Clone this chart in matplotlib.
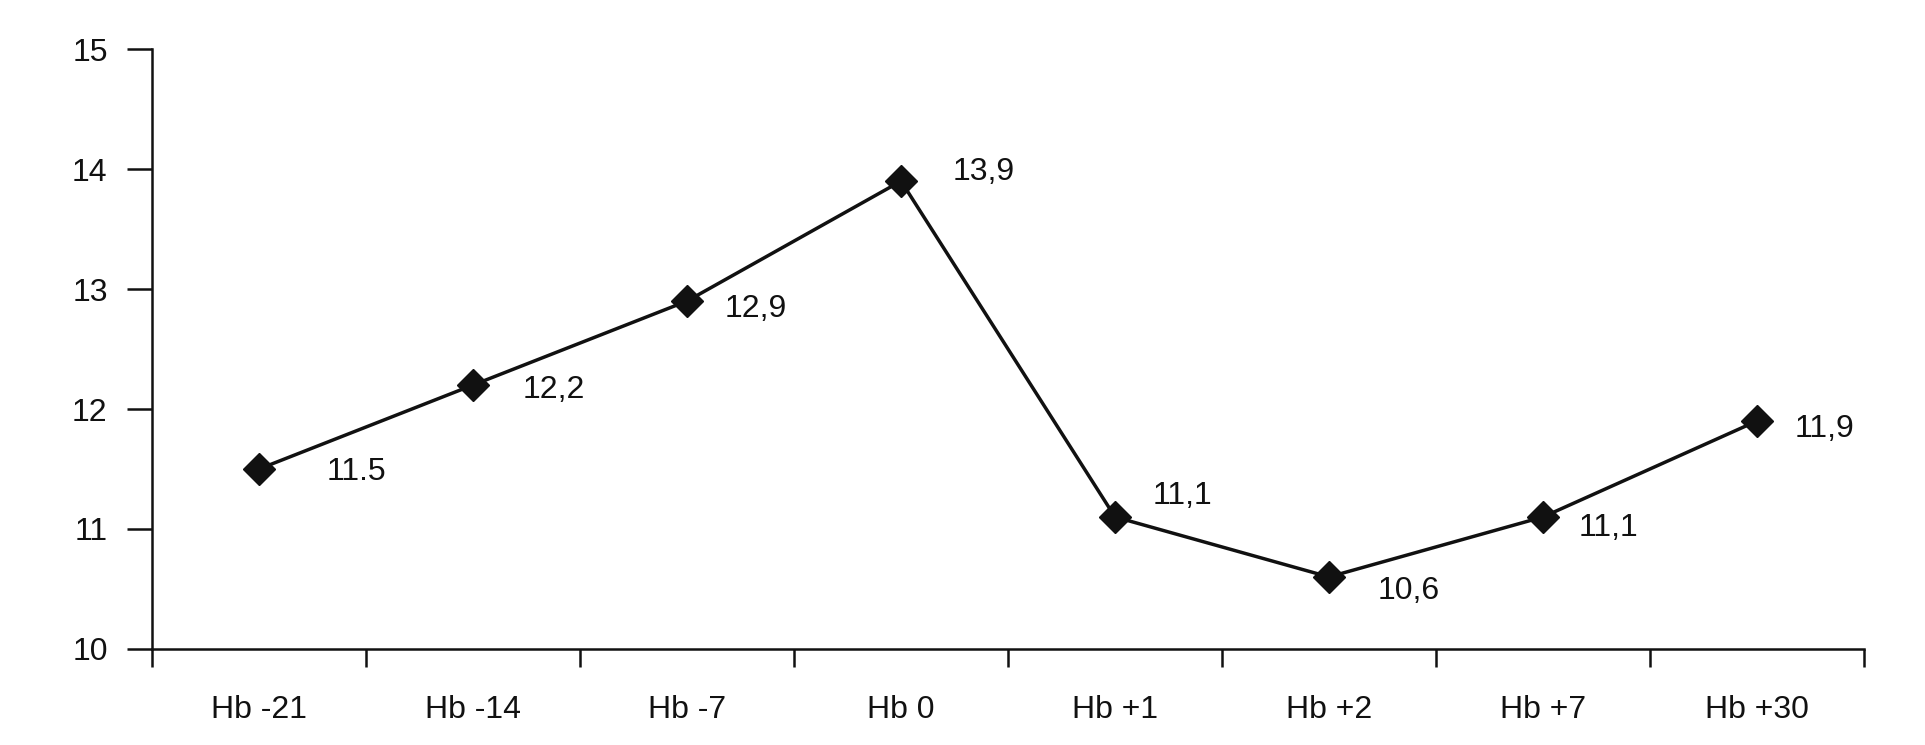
import matplotlib
matplotlib.use('Agg')
import matplotlib.pyplot as plt

# values
days = ['Hb -21', 'Hb -14', 'Hb -7', 'Hb 0', 'Hb +1', 'Hb +2', 'Hb +7', 'Hb +30']
hb = [11.5, 12.2, 12.9, 13.9, 11.1, 10.6, 11.1, 11.9]
point_labels = ['11.5', '12,2', '12,9', '13,9', '11,1', '10,6', '11,1', '11,9']

# label offsets in pixels (left edge, centre; + is down), placed by hand
label_offsets = [(68, 3), (50, 5), (38, 8), (52, -9), (38, -21), (49, 14), (36, 11), (38, 8)]

plt.rcParams['font.family'] = ['Liberation Sans', 'DejaVu Sans']

fig = plt.figure(figsize=(19.25, 7.45), dpi=100)
ax = fig.add_axes([0.0790, 0.129, 0.8893, 0.805])

x = [i + 0.5 for i in range(len(days))]
ax.plot(x, hb, color='#111111', lw=2.5, marker='D', ms=16, mfc='#111111', mec='#111111')

for xi, yi, txt, (dx, dy) in zip(x, hb, point_labels, label_offsets):
    ax.annotate(txt, (xi, yi), xytext=(dx * 0.72, -dy * 0.72), textcoords='offset points',
                ha='left', va='center', fontsize=23, color='#111111')

ax.set_xlim(0, len(days))
ax.set_ylim(10, 15)
ax.set_yticks([10, 11, 12, 13, 14, 15])
ax.set_xticks(range(len(days) + 1))
ax.set_xticklabels([])
ax.set_xticks(x, minor=True)
ax.set_xticklabels(days, minor=True)

ax.tick_params(axis='y', direction='out', length=18, width=1.8, labelsize=23, pad=14, colors='#111111')
ax.tick_params(axis='x', which='major', direction='out', length=13, width=1.8, colors='#111111')
ax.tick_params(axis='x', which='minor', length=0, labelsize=23, pad=33, colors='#111111')

for side in ['top', 'right']:
    ax.spines[side].set_visible(False)
for side in ['left', 'bottom']:
    ax.spines[side].set_linewidth(1.8)
    ax.spines[side].set_color('#111111')

plt.savefig('out.png', dpi=100)
